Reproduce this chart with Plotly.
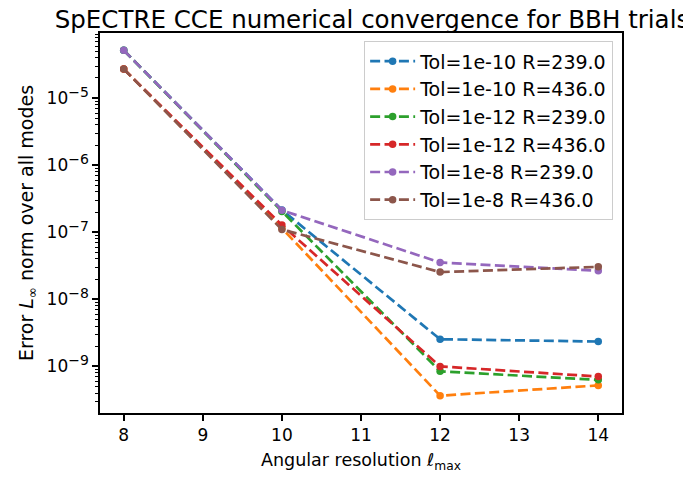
import plotly.graph_objects as go

ell = [8, 10, 12, 14]
labels = ["Tol=1e-10 R=239.0", "Tol=1e-10 R=436.0", "Tol=1e-12 R=239.0",
          "Tol=1e-12 R=436.0", "Tol=1e-8 R=239.0", "Tol=1e-8 R=436.0"]
tol10_r239 = [5.18e-5, 2.15e-7, 2.54e-9, 2.35e-9]
tol10_r436 = [2.72e-5, 1.15e-7, 3.66e-10, 5.2e-10]
tol12_r239 = [5.18e-5, 2.05e-7, 8.43e-10, 6.3e-10]
tol12_r436 = [2.72e-5, 1.28e-7, 1.0e-9, 7.06e-10]
tol8_r239 = [5.18e-5, 2.13e-7, 3.55e-8, 2.67e-8]
tol8_r436 = [2.72e-5, 1.10e-7, 2.55e-8, 3.05e-8]
series = [tol10_r239, tol10_r436, tol12_r239, tol12_r436, tol8_r239, tol8_r436]
colors = ["#1f77b4", "#ff7f0e", "#2ca02c", "#d62728", "#9467bd", "#8c564b"]

ytick_vals = [1e-9, 1e-8, 1e-7, 1e-6, 1e-5]
ytick_exps = ["−9", "−8", "−7", "−6", "−5"]
ytick_text = ["10<sup><span style='font-size:14px'>%s</span></sup>" % e for e in ytick_exps]

fig = go.Figure()
for i, (lab, ys, c) in enumerate(zip(labels, series, colors)):
    fig.add_trace(go.Scatter(
        x=ell, y=ys, name=lab, mode="lines+markers", legendgroup=f"g{i}",
        line=dict(color=c, width=2.7, dash="10px,4.4px"),
        marker=dict(color=c, size=7.5, symbol="circle"),
    ))

font = "DejaVu Sans, sans-serif"
W, H = 683, 479
fig.update_layout(
    width=W, height=H,
    margin=dict(l=100, r=61, t=33, b=63),
    paper_bgcolor="white", plot_bgcolor="white",
    font=dict(family=font, size=17, color="black"),
    title=dict(text="SpECTRE CCE numerical convergence for BBH trials",
               x=372 / W, xref="container", xanchor="center",
               y=1 - 19 / H, yanchor="middle",
               font=dict(size=24.5, family=font, color="black")),
    legend=dict(x=0.983, y=0.978, xanchor="right", yanchor="top",
                bordercolor="#cccccc", borderwidth=1, bgcolor="rgba(255,255,255,0.8)",
                font=dict(size=19, family=font), tracegroupgap=0, itemwidth=45),
    showlegend=True,
)
fig.update_xaxes(
    range=[7.7, 14.3], dtick=1, tick0=8,
    showline=True, linecolor="black", linewidth=1.5, mirror=True,
    ticks="outside", ticklen=6, tickwidth=1.5, tickcolor="black",
    tickfont=dict(size=17),
    showgrid=False, zeroline=False,
    title=dict(text="Angular resolution <i>ℓ</i><sub>max</sub>", standoff=10,
               font=dict(size=17.5)),
)
fig.update_yaxes(
    type="log", range=[-9.695, -4.028],
    tickmode="array", tickvals=ytick_vals, ticktext=ytick_text,
    showline=True, linecolor="black", linewidth=1.5, mirror=True,
    ticks="outside", ticklen=6, tickwidth=1.5, tickcolor="black",
    tickfont=dict(size=17),
    minor=dict(ticks="outside", ticklen=3.5, tickwidth=1, tickcolor="black",
               dtick="D1", showgrid=False),
    showgrid=False, zeroline=False,
    title=dict(text="Error <i>L</i><sub>∞</sub> norm over all modes", standoff=8,
               font=dict(size=19)),
)
fig.write_html("out.html", config={"displayModeBar": False},
               post_script="document.body.style.margin='0px';")
